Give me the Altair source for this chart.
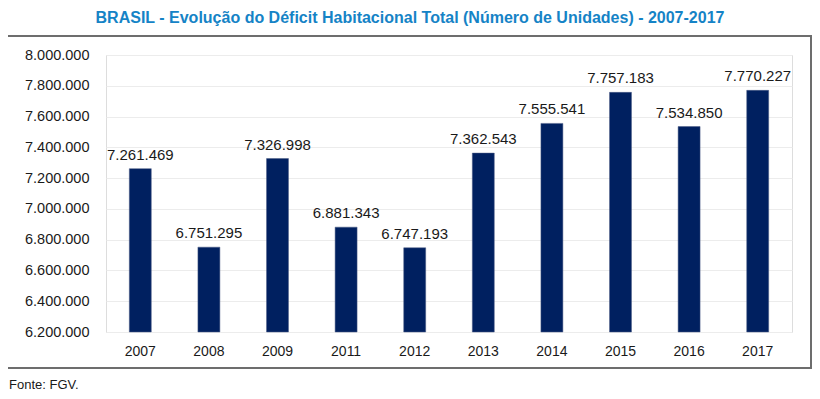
import altair as alt
import pandas as pd

years = ["2007", "2008", "2009", "2011", "2012", "2013", "2014", "2015", "2016", "2017"]
deficit = [7261469, 6751295, 7326998, 6881343, 6747193, 7362543, 7555541, 7757183, 7534850, 7770227]
y_ticks = [6200000, 6400000, 6600000, 6800000, 7000000, 7200000, 7400000, 7600000, 7800000, 8000000]
title_text = "BRASIL - Evolução do Déficit Habitacional Total (Número de Unidades) - 2007-2017"
source_text = "Fonte: FGV."

df = pd.DataFrame({"ano": years, "valor": deficit})
FONT = "Liberation Sans"
PT = "replace(format(datum.value, ','), regexp(',', 'g'), '.')"

base = alt.Chart(df)

x_scale = alt.Scale(paddingInner=0.68, paddingOuter=0.34)
y_scale = alt.Scale(domain=[6200000, 8000000], zero=False, nice=False)
x_axis = alt.Axis(labelAngle=0, labelFontSize=14, labelColor="#1a1a1a",
                  labelFont=FONT, ticks=False, domain=False, labelPadding=12)
y_axis = alt.Axis(values=y_ticks, labelExpr=PT, labelFontSize=14.5, labelColor="#1a1a1a",
                  labelFont=FONT, ticks=False, domain=False, labelPadding=17,
                  labelOverlap=False, labelBound=False,
                  grid=True, gridColor="#ececec", gridWidth=1.2)

bars = base.mark_bar(color="#002060", stroke="#4a5a85", strokeWidth=0.5).encode(
    x=alt.X("ano:N", sort=years, title=None, scale=x_scale, axis=x_axis),
    y=alt.Y("valor:Q", scale=y_scale, title=None, axis=y_axis),
    y2=alt.datum(6200000),
)

labels = base.transform_calculate(
    lbl="replace(format(datum.valor, ','), regexp(',', 'g'), '.')"
).mark_text(baseline="bottom", dy=-6, fontSize=15, font=FONT, color="#1a1a1a").encode(
    x=alt.X("ano:N", sort=years, title=None, scale=x_scale, axis=x_axis),
    y=alt.Y("valor:Q", scale=y_scale, title=None, axis=y_axis),
    text="lbl:N",
)

border = base.mark_rect(fill=None, stroke="#6e6e6e", strokeWidth=1.5, clip=False).encode(
    x=alt.value(-99), x2=alt.value(705), y=alt.value(-19), y2=alt.value(313)
)

title = alt.Chart(pd.DataFrame({"t": [title_text]})).mark_text(
    fontSize=16, fontWeight="bold", font=FONT, color="#1583c6", align="center", baseline="middle"
).encode(x=alt.value(304), y=alt.value(-37), text="t:N")

source = alt.Chart(pd.DataFrame({"t": [source_text]})).mark_text(
    fontSize=13, font=FONT, color="#1a1a1a", align="left", baseline="middle"
).encode(x=alt.value(-97), y=alt.value(330), text="t:N")

chart = alt.layer(bars, labels, border, title, source).properties(
    width=686, height=277,
    autosize=alt.AutoSizeParams(type="none"),
    padding={"left": 98, "top": 47, "right": 20, "bottom": 63},
).configure_view(stroke=None).configure(background="white")

chart.save("out.html", embed_options={"renderer": "svg", "actions": False})
